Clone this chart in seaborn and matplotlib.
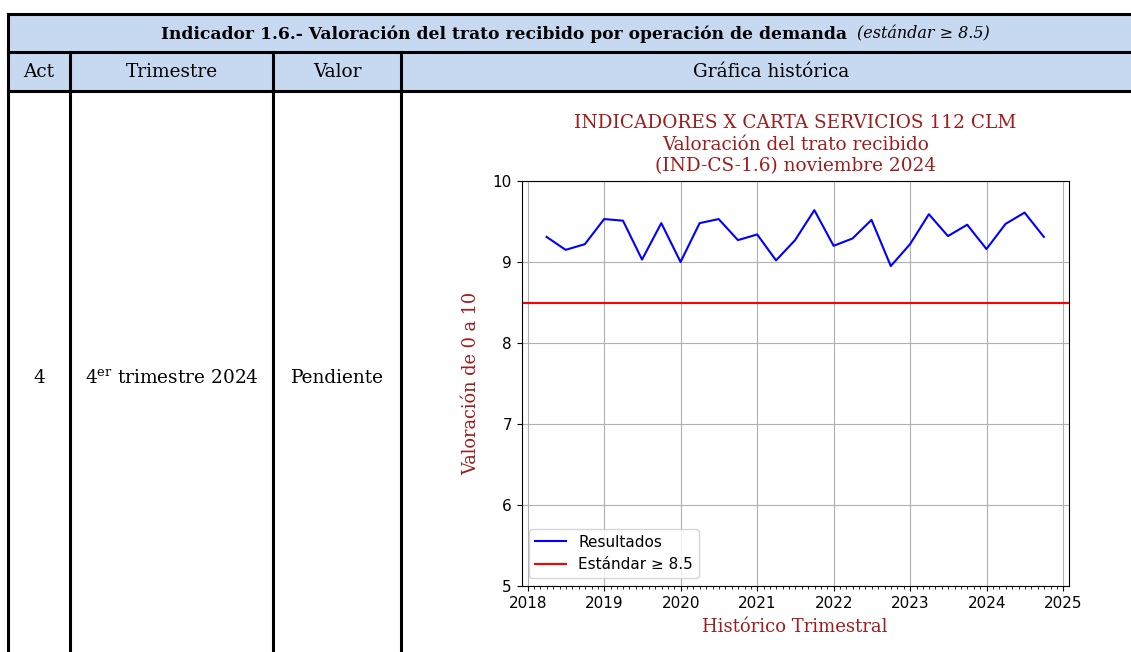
import pandas as pd
import matplotlib.pyplot as plt
import matplotlib.dates as mdates
import seaborn as sns

# ==========================================
# 1. DATOS
# ==========================================
FECHAS = ["2018-03-31", "2018-06-30", "2018-09-30", "2018-12-31",
          "2019-03-31", "2019-06-30", "2019-09-30", "2019-12-31",
          "2020-03-31", "2020-06-30", "2020-09-30", "2020-12-31",
          "2021-03-31", "2021-06-30", "2021-09-30", "2021-12-31",
          "2022-03-31", "2022-06-30", "2022-09-30", "2022-12-31",
          "2023-03-31", "2023-06-30", "2023-09-30", "2023-12-31",
          "2024-03-31", "2024-06-30", "2024-09-30"]
VALORES = [9.31, 9.15, 9.22, 9.53, 9.51, 9.03, 9.48, 9.00,
           9.48, 9.53, 9.27, 9.34, 9.02, 9.27, 9.64, 9.20,
           9.29, 9.52, 8.95, 9.22, 9.59, 9.32, 9.46, 9.16,
           9.47, 9.61, 9.31]
ESTANDAR = 8.5

TITULO_TABLA = "Indicador 1.6.- Valoración del trato recibido por operación de demanda"
SUBTITULO_TABLA = "(estándar ≥ 8.5)"
CABECERAS = ["Act", "Trimestre", "Valor", "Gráfica histórica"]
FILA = ["4", r"4$^{\mathrm{er}}$ trimestre 2024", "Pendiente"]

df = pd.DataFrame({"fecha": pd.to_datetime(FECHAS), "valor": VALORES})

ROJO = "#9e1c1c"
AZUL_CAB = "#c6d9f1"
plt.rcParams["mathtext.fontset"] = "dejavuserif"

W, H = 1131, 652
fig = plt.figure(figsize=(W / 100, H / 100), dpi=100)

# ==========================================
# 2. TABLA (coordenadas en pixel)
# ==========================================
tab = fig.add_axes([0, 0, 1, 1])
tab.set_xlim(0, W)
tab.set_ylim(H, 0)
tab.axis("off")

tab.fill_between([8, W + 5], 14, 91, color=AZUL_CAB, lw=0)
lw = 2.2
for y in [14, 52, 91]:
    tab.plot([8, W + 5], [y, y], color="black", lw=lw, solid_capstyle="projecting")
for x in [8, 70, 273, 401]:
    y0 = 14 if x == 8 else 52
    tab.plot([x, x], [y0, H + 5], color="black", lw=lw, solid_capstyle="projecting")

fs = 13.3
tab.text(161, 34, TITULO_TABLA, fontsize=12.35, fontweight="bold", family="DejaVu Serif",
         ha="left", va="center")
tab.text(857, 34, SUBTITULO_TABLA, fontsize=11.5, style="italic", family="DejaVu Serif",
         ha="left", va="center")

centros = [39, 172, 337, 771]
for cx, txt in zip(centros, CABECERAS):
    tab.text(cx, 72, txt, fontsize=fs, family="DejaVu Serif", ha="center", va="center")
for cx, txt in zip(centros, FILA):
    tab.text(cx, 378, txt, fontsize=fs, family="DejaVu Serif", ha="center", va="center")

# ==========================================
# 3. GRAFICO
# ==========================================
ax = fig.add_axes([521.7 / W, 1 - 586 / H, 547 / W, 405 / H])
sns.lineplot(data=df, x="fecha", y="valor", color="blue", lw=1.5, label="Resultados", ax=ax)
ax.axhline(ESTANDAR, color="red", lw=1.5, label="Estándar ≥ 8.5")

ax.set_ylim(5, 10)
ax.xaxis.set_major_locator(mdates.YearLocator())
ax.xaxis.set_major_formatter(mdates.DateFormatter("%Y"))
ax.xaxis.set_minor_locator(mdates.MonthLocator())
ax.tick_params(labelsize=11)
ax.grid(True, color="#b0b0b0", lw=0.8)

ax.set_title("INDICADORES X CARTA SERVICIOS 112 CLM\nValoración del trato recibido\n"
             "(IND-CS-1.6) noviembre 2024", color=ROJO, family="DejaVu Serif", fontsize=13.3,
             linespacing=1.26, pad=7)
ax.set_xlabel("Histórico Trimestral", color=ROJO, family="DejaVu Serif", fontsize=13,
              labelpad=5)
ax.set_ylabel("Valoración de 0 a 10", color=ROJO, family="DejaVu Serif", fontsize=12.8,
              labelpad=9)
ax.legend(loc="lower left", fontsize=11)

fig.savefig("out.png", dpi=100)
plt.close()
